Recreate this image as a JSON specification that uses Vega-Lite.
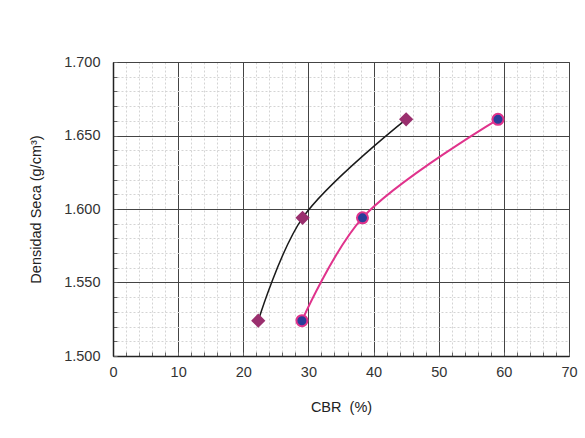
{
  "$schema": "https://vega.github.io/schema/vega-lite/v6.json",
  "width": 456,
  "height": 294,
  "autosize": {"type": "none"},
  "padding": {"left": 113, "top": 62, "right": 16, "bottom": 82},
  "background": "white",
  "config": {
    "view": {"stroke": "#555555", "strokeWidth": 1},
    "font": "Liberation Sans"
  },
  "data": {
    "values": [
      {"serie": "A", "cbr": 22.3, "densidad": 1.524},
      {"serie": "A", "cbr": 29.1, "densidad": 1.594},
      {"serie": "A", "cbr": 45.0, "densidad": 1.661},
      {"serie": "B", "cbr": 29.0, "densidad": 1.524},
      {"serie": "B", "cbr": 38.3, "densidad": 1.594},
      {"serie": "B", "cbr": 59.1, "densidad": 1.661}
    ]
  },
  "encoding": {
    "x": {
      "field": "cbr",
      "type": "quantitative",
      "scale": {"domain": [0, 70], "nice": false, "zero": false},
      "axis": {
        "title": "CBR \u00a0(%)",
        "values": [0,2,4,6,8,10,12,14,16,18,20,22,24,26,28,30,32,34,36,38,40,42,44,46,48,50,52,54,56,58,60,62,64,66,68,70],
        "labelExpr": "datum.value % 10 === 0 ? datum.label : ''",
        "labelFlush": false,
        "labelOverlap": false,
        "labelFont": "Liberation Sans",
        "labelFontSize": 14.5,
        "labelColor": "#333333",
        "labelPadding": 13,
        "ticks": true,
        "tickSize": -4,
        "tickColor": "#666666",
        "domainColor": "#222222",
        "domainWidth": 1.5,
        "gridColor": {"condition": {"test": "datum.value % 10 === 0", "value": "#444444"}, "value": "#d4d4d4"},
        "gridDash": {"condition": {"test": "datum.value % 10 === 0", "value": []}, "value": [2, 2]},
        "gridWidth": 1,
        "gridOpacity": 1,
        "titleFont": "Liberation Sans",
        "titleFontSize": 14.5,
        "titleFontWeight": "normal",
        "titleColor": "#222222",
        "titlePadding": 22
      }
    },
    "y": {
      "field": "densidad",
      "type": "quantitative",
      "scale": {"domain": [1.5, 1.7], "nice": false, "zero": false},
      "axis": {
        "title": "Densidad Seca (g/cm³)",
        "values": [1.5,1.51,1.52,1.53,1.54,1.55,1.56,1.57,1.58,1.59,1.6,1.61,1.62,1.63,1.64,1.65,1.66,1.67,1.68,1.69,1.7],
        "labelExpr": "round(datum.value * 100) % 5 === 0 ? format(datum.value, '.3f') : ''",
        "labelOverlap": false,
        "labelFont": "Liberation Sans",
        "labelFontSize": 14.5,
        "labelColor": "#333333",
        "labelPadding": 17,
        "ticks": true,
        "tickSize": -4,
        "tickColor": "#666666",
        "domainColor": "#222222",
        "domainWidth": 1.5,
        "gridColor": {"condition": {"test": "round(datum.value * 100) % 5 === 0", "value": "#444444"}, "value": "#d4d4d4"},
        "gridDash": {"condition": {"test": "round(datum.value * 100) % 5 === 0", "value": []}, "value": [2, 2]},
        "gridWidth": 1,
        "gridOpacity": 1,
        "titleFont": "Liberation Sans",
        "titleFontSize": 14.5,
        "titleFontWeight": "normal",
        "titleColor": "#222222",
        "titlePadding": 20
      }
    }
  },
  "layer": [
    {
      "mark": {"type": "line", "interpolate": "catmull-rom"},
      "encoding": {
        "color": {"field": "serie", "type": "nominal", "scale": {"domain": ["A", "B"], "range": ["#1a1a1a", "#e0338c"]}, "legend": null},
        "strokeWidth": {"field": "serie", "type": "nominal", "scale": {"domain": ["A", "B"], "range": [1.5, 2]}, "legend": null}
      }
    },
    {
      "mark": {"type": "point", "filled": true, "opacity": 1, "strokeWidth": 2},
      "encoding": {
        "shape": {"field": "serie", "type": "nominal", "scale": {"domain": ["A", "B"], "range": ["diamond", "circle"]}, "legend": null},
        "fill": {"field": "serie", "type": "nominal", "scale": {"domain": ["A", "B"], "range": ["#9a2f6e", "#2a3d9a"]}, "legend": null},
        "stroke": {"field": "serie", "type": "nominal", "scale": {"domain": ["A", "B"], "range": ["#9a2f6e", "#e0338c"]}, "legend": null},
        "size": {"field": "serie", "type": "nominal", "scale": {"domain": ["A", "B"], "range": [130, 121]}, "legend": null}
      }
    }
  ]
}
